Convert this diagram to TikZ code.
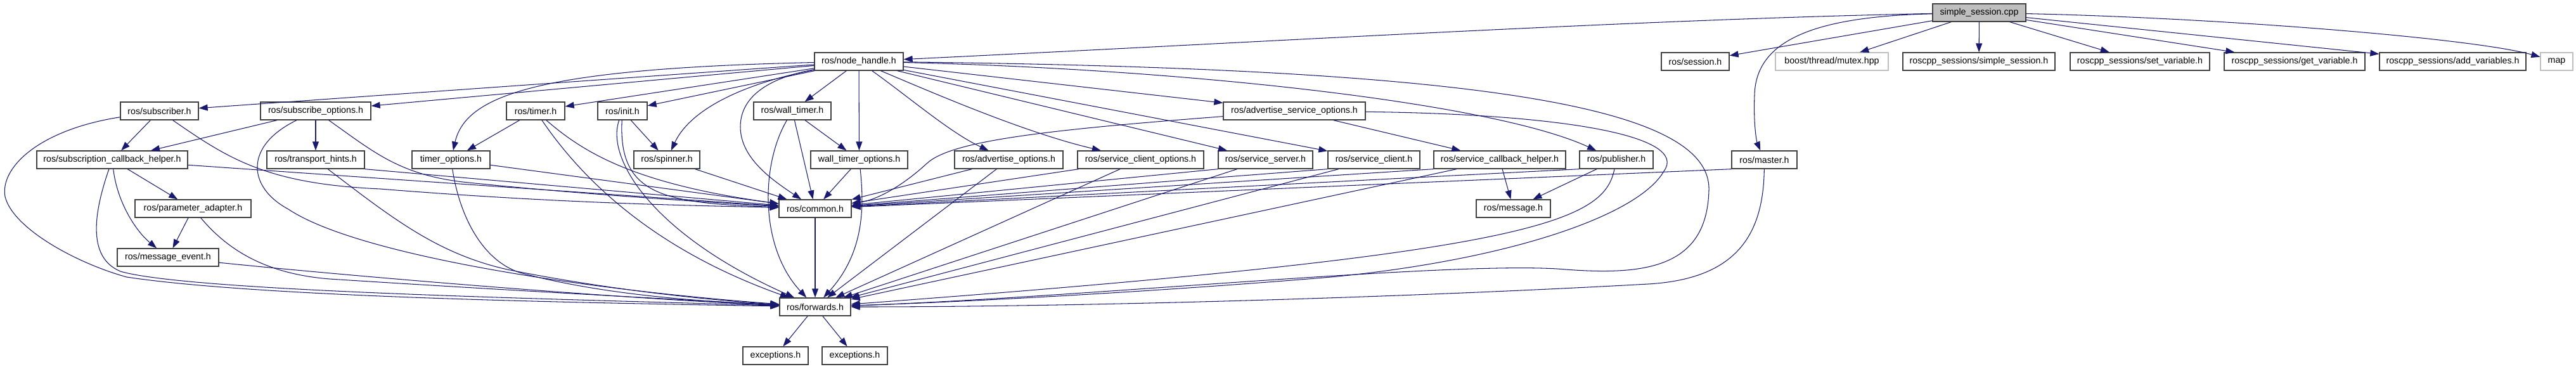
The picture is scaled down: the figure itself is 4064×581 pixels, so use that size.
\documentclass[tikz,border=0pt]{standalone}
\usepackage{fontspec}
\setmainfont{Liberation Sans}
\usetikzlibrary{arrows.meta}
\definecolor{edgecol}{HTML}{191970}
\definecolor{rootfill}{HTML}{BFBFBF}
\definecolor{boxline}{HTML}{404040}
\definecolor{extline}{HTML}{BFBFBF}
\begin{document}
\begin{tikzpicture}[x=1pt,y=-1pt,
  filebox/.style={draw=boxline, line width=1.3pt, fill=white, minimum height=28pt, inner sep=0pt, font=\fontsize{14.2}{16}\selectfont, text=black},
  rootbox/.style={filebox, fill=rootfill},
  extbox/.style={filebox, draw=extline},
  edge/.style={draw=edgecol, line width=1.05pt, -{Triangle[length=14pt,width=10pt]}}]
\useasboundingbox (0,0) rectangle (4064,581);
\fill[white] (0,0) rectangle (4064,581);
% row 1
\node[rootbox, minimum width=147pt] (ss) at (3122.5,20) {simple\_session.cpp};
% row 2
\node[filebox, minimum width=140pt] (nh) at (1355,97) {ros/node\_handle.h};
\node[filebox, minimum width=107pt] (session) at (2674.5,97) {ros/session.h};
\node[extbox, minimum width=178pt] (mutex) at (2890,97) {boost/thread/mutex.hpp};
\node[filebox, minimum width=240pt] (simplesess) at (3122,97) {roscpp\_sessions/simple\_session.h};
\node[filebox, minimum width=220pt] (setvar) at (3376,97) {roscpp\_sessions/set\_variable.h};
\node[filebox, minimum width=222pt] (getvar) at (3620,97) {roscpp\_sessions/get\_variable.h};
\node[filebox, minimum width=231pt] (addvar) at (3869.5,97) {roscpp\_sessions/add\_variables.h};
\node[extbox, minimum width=51pt] (map) at (4033.5,97) {map};
% row 3
\node[filebox, minimum width=123pt] (subscriber) at (251.5,175) {ros/subscriber.h};
\node[filebox, minimum width=174pt] (subopts) at (498,175) {ros/subscribe\_options.h};
\node[filebox, minimum width=92pt] (timer) at (845,175) {ros/timer.h};
\node[filebox, minimum width=78pt] (init) at (982,175) {ros/init.h};
\node[filebox, minimum width=122pt] (walltimer) at (1250,175) {ros/wall\_timer.h};
\node[filebox, minimum width=224pt] (advsrvopts) at (2042,175) {ros/advertise\_service\_options.h};
% row 4
\node[filebox, minimum width=238pt] (subcb) at (177,252) {ros/subscription\_callback\_helper.h};
\node[filebox, minimum width=154pt] (transport) at (498,252) {ros/transport\_hints.h};
\node[filebox, minimum width=123pt] (timeropts) at (711.5,252) {timer\_options.h};
\node[filebox, minimum width=104pt] (spinner) at (1052,252) {ros/spinner.h};
\node[filebox, minimum width=153pt] (walltimeropts) at (1355.5,252) {wall\_timer\_options.h};
\node[filebox, minimum width=171pt] (advopts) at (1591.5,252) {ros/advertise\_options.h};
\node[filebox, minimum width=199pt] (srvclientopts) at (1799.5,252) {ros/service\_client\_options.h};
\node[filebox, minimum width=149pt] (srvserver) at (1996.5,252) {ros/service\_server.h};
\node[filebox, minimum width=145pt] (srvclient) at (2167.5,252) {ros/service\_client.h};
\node[filebox, minimum width=208pt] (srvcb) at (2366,252) {ros/service\_callback\_helper.h};
\node[filebox, minimum width=116pt] (publisher) at (2550,252) {ros/publisher.h};
\node[filebox, minimum width=103pt] (master) at (2783.5,252) {ros/master.h};
% row 5
\node[filebox, minimum width=183pt] (paramadapter) at (304.5,329) {ros/parameter\_adapter.h};
\node[filebox, minimum width=114pt] (common) at (1286,329) {ros/common.h};
\node[filebox, minimum width=117pt] (message) at (2387.5,329) {ros/message.h};
% row 6
\node[filebox, minimum width=160pt] (msgevent) at (265,406) {ros/message\_event.h};
% row 7
\node[filebox, minimum width=112pt] (forwards) at (1286,484) {ros/forwards.h};
% row 8
\node[filebox, minimum width=103pt] (exc1) at (1223.5,561) {exceptions.h};
\node[filebox, minimum width=103pt] (exc2) at (1348.5,561) {exceptions.h};

% edges from simple_session.cpp
\draw[edge] (ss) .. controls (2600,30) and (2000,66) .. (nh);
\draw[edge] (ss) -- (session);
\draw[edge] (ss) .. controls (2870,26) and (2770,60) .. (2768,150) .. controls (2766,200) and (2772,225) .. (master);
\draw[edge] (ss) -- (mutex);
\draw[edge] (ss) -- (simplesess);
\draw[edge] (ss) -- (setvar);
\draw[edge] (ss) -- (getvar);
\draw[edge] (ss) -- (addvar);
\draw[edge] (ss) .. controls (3500,28) and (3900,60) .. (map);

% edges from node_handle.h
\draw[edge] (nh) -- (subscriber);
\draw[edge] (nh) -- (subopts);
\draw[edge] (nh) .. controls (850,108) and (735,150) .. (timeropts);
\draw[edge] (nh) -- (timer);
\draw[edge] (nh) -- (init);
\draw[edge] (nh) .. controls (1180,130) and (1090,170) .. (spinner);
\draw[edge] (nh) .. controls (1200,125) and (1168,160) .. (1168,200) .. controls (1168,250) and (1220,285) .. (common);
\draw[edge] (nh) -- (walltimer);
\draw[edge] (nh) -- (walltimeropts);
\draw[edge] (nh) .. controls (1430,150) and (1500,210) .. (advopts);
\draw[edge] (nh) .. controls (1480,150) and (1620,210) .. (srvclientopts);
\draw[edge] (nh) -- (srvserver);
\draw[edge] (nh) -- (srvclient);
\draw[edge] (nh) -- (advsrvopts);
\draw[edge] (nh) .. controls (1850,108) and (2350,160) .. (publisher);
\draw[edge] (nh) .. controls (2350,108) and (2700,170) .. (2696,300) .. controls (2693,420) and (2600,435) .. (2470,425) .. controls (2300,410) and (1700,470) .. (forwards);

% left cluster
\draw[edge] (subscriber) -- (subcb);
\draw[edge] (subscriber) .. controls (360,250) and (420,290) .. (600,298) .. controls (900,322) and (1100,324) .. (common);
\draw[edge] (subscriber) .. controls (60,205) and (0,265) .. (8,310) .. controls (20,360) and (120,415) .. (200,437) .. controls (420,470) and (950,478) .. (forwards);
\draw[edge] (subopts) -- (subcb);
\draw[edge] (subopts) -- (transport);
\draw[edge] (subopts) .. controls (385,230) and (390,295) .. (455,330) .. controls (560,400) and (900,455) .. (forwards);
\draw[edge] (subopts) .. controls (590,240) and (630,275) .. (730,287) .. controls (900,305) and (1100,318) .. (common);
\draw[edge] (subcb) -- (paramadapter);
\draw[edge] (subcb) .. controls (185,320) and (215,365) .. (msgevent);
\draw[edge] (subcb) -- (common);
\draw[edge] (subcb) .. controls (150,330) and (135,405) .. (190,428) .. controls (300,460) and (900,472) .. (forwards);
\draw[edge] (paramadapter) -- (msgevent);
\draw[edge] (paramadapter) .. controls (360,395) and (420,432) .. (520,440) .. controls (800,458) and (1100,474) .. (forwards);
\draw[edge] (msgevent) .. controls (600,440) and (1000,472) .. (forwards);
\draw[edge] (transport.south east) -- (common);
\draw[edge] (transport) .. controls (620,345) and (690,400) .. (800,425) .. controls (950,455) and (1100,472) .. (forwards);

% middle cluster
\draw[edge] (timer) -- (timeropts);
\draw[edge] (timer) .. controls (920,240) and (1000,290) .. (common);
\draw[edge] (timer) .. controls (930,300) and (1050,400) .. (forwards);
\draw[edge] (timeropts) -- (common);
\draw[edge] (timeropts) .. controls (725,340) and (760,410) .. (820,430) .. controls (950,465) and (1100,475) .. (forwards);
\draw[edge] (init) -- (spinner);
\draw[edge] (init) .. controls (975,310) and (1050,320) .. (common);
\draw[edge] (init) .. controls (955,250) and (1030,370) .. (forwards);
\draw[edge] (spinner) -- (common);
\draw[edge] (walltimer) -- (walltimeropts);
\draw[edge] (walltimer) -- (common);
\draw[edge] (walltimer) .. controls (1200,260) and (1198,390) .. (forwards);
\draw[edge] (walltimeropts) -- (common);
\draw[edge] (walltimeropts) .. controls (1364,330) and (1362,400) .. (forwards);
\draw[edge] (common) -- (forwards);
\draw[edge] (forwards) -- (exc1);
\draw[edge] (forwards) -- (exc2);

% right cluster
\draw[edge] (advopts) -- (common);
\draw[edge] (advopts) -- (forwards);
\draw[edge] (srvclientopts) -- (common);
\draw[edge] (srvclientopts) -- (forwards);
\draw[edge] (srvserver.south west) -- (common);
\draw[edge] (srvserver) -- (forwards);
\draw[edge] (srvclient.south west) -- (common);
\draw[edge] (srvclient) -- (forwards);
\draw[edge] (srvcb) -- (message);
\draw[edge] (srvcb.south west) -- (common);
\draw[edge] (srvcb) -- (forwards);
\draw[edge] (publisher) -- (message);
\draw[edge] (publisher.south west) -- (common);
\draw[edge] (publisher) .. controls (2530,350) and (2420,400) .. (forwards);
\draw[edge] (master.south west) -- (common);
\draw[edge] (master) .. controls (2782,370) and (2740,440) .. (2600,448) .. controls (2200,470) and (1700,484) .. (forwards);
\draw[edge] (advsrvopts) -- (srvcb);
\draw[edge] (advsrvopts) .. controls (1650,205) and (1500,222) .. (1462,258) .. controls (1425,292) and (1385,315) .. (common);
\draw[edge] (advsrvopts) .. controls (2470,180) and (2665,215) .. (2625,270) .. controls (2585,340) and (2380,410) .. (2100,437) .. controls (1800,462) and (1500,477) .. (forwards);
\end{tikzpicture}
\end{document}
